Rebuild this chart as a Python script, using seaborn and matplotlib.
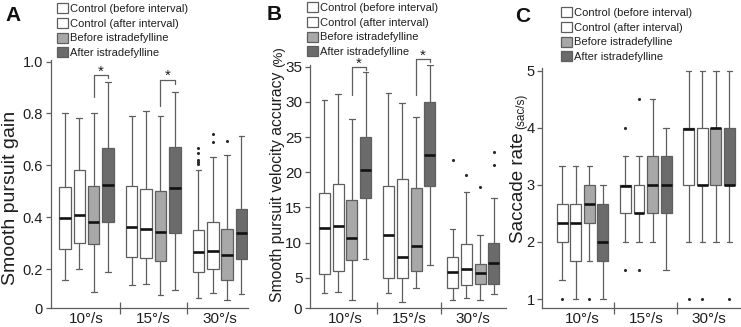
import numpy as np
import pandas as pd
import matplotlib
matplotlib.use("Agg")
import matplotlib.pyplot as plt
import seaborn as sns

sns.set_style("ticks")
plt.rcParams['font.family'] = ['Liberation Sans', 'DejaVu Sans']

W, H = 741, 327

speeds = ['10°/s', '15°/s', '30°/s']
conditions = ['Control (before interval)', 'Control (after interval)',
              'Before istradefylline', 'After istradefylline']
box_colors = ['#ffffff', '#ffffff', '#a8a8a8', '#6b6b6b']

# A - smooth pursuit gain (rows = speed, cols = condition)
gain_lo = [[0.16, 0.20, 0.11, 0.19], [0.14, 0.141, 0.099, 0.12], [0.09, 0.109, 0.081, 0.106]]
gain_q1 = [[0.277, 0.30, 0.295, 0.38], [0.245, 0.241, 0.231, 0.341], [0.19, 0.199, 0.16, 0.24]]
gain_med = [[0.397, 0.41, 0.38, 0.524], [0.363, 0.353, 0.343, 0.512], [0.265, 0.27, 0.255, 0.341]]
gain_q3 = [[0.518, 0.583, 0.52, 0.667], [0.521, 0.51, 0.501, 0.672], [0.35, 0.38, 0.354, 0.43]]
gain_hi = [[0.80, 0.782, 0.80, 0.923], [0.792, 0.811, 0.791, 0.882], [0.583, 0.632, 0.641, 0.713]]
gain_out = {(2, 0): [0.605, 0.613, 0.622, 0.649, 0.668], (2, 1): [0.69, 0.722], (2, 2): [0.693]}

# B - smooth pursuit velocity accuracy (%)
acc_lo = [[2.8, 3.0, 1.9, 7.7], [2.8, 1.6, 3.6, 6.8], [1.9, 2.1, 1.9, 2.7]]
acc_q1 = [[5.5, 6.0, 7.5, 16.3], [5.0, 5.0, 6.0, 18.0], [3.6, 4.0, 4.1, 4.15]]
acc_med = [[12.0, 12.3, 10.7, 20.3], [11.0, 8.0, 9.5, 22.5], [5.8, 6.2, 5.6, 7.1]]
acc_q3 = [[17.1, 18.3, 16.1, 25.0], [18.0, 19.0, 17.8, 30.0], [7.9, 9.75, 6.95, 9.9]]
acc_hi = [[30.2, 31.1, 27.5, 34.2], [31.2, 29.8, 27.8, 35.3], [11.9, 17.2, 11.1, 16.4]]
acc_out = {(2, 0): [21.8], (2, 1): [19.6], (2, 2): [17.9], (2, 3): [21.0, 22.9]}

# C - saccade rate (sac/s)
sac_lo = [[1.33, 1.0, 1.67, 1.0], [2.0, 2.0, 2.0, 1.5], [2.0, 2.0, 2.0, 2.0]]
sac_q1 = [[2.0, 1.67, 2.33, 1.67], [2.5, 2.5, 2.5, 2.5], [3.0, 3.0, 3.0, 3.0]]
sac_med = [[2.33, 2.33, 2.67, 2.0], [2.98, 2.5, 3.0, 3.0], [3.98, 3.0, 4.0, 3.0]]
sac_q3 = [[2.67, 2.67, 3.0, 2.67], [3.0, 3.0, 3.5, 3.5], [4.0, 4.0, 4.0, 4.0]]
sac_hi = [[3.33, 3.33, 3.33, 3.0], [3.5, 3.5, 4.5, 4.0], [5.0, 5.0, 5.0, 5.0]]
sac_out = {(0, 0): [1.0], (0, 2): [1.0], (1, 0): [1.5, 4.0], (1, 1): [1.5, 4.5],
           (2, 0): [1.0], (2, 1): [1.0], (2, 3): [1.0]}

BOX_WIDTH = 0.86
SLOT = BOX_WIDTH / len(conditions)
LINE = '#5e5e5e'
TEXT = '#1e1e1e'


def long_table(lo, q1, med, q3, hi):
    # five numbers per box; whis=(0, 100) turns min/max into the whisker ends
    rows = []
    for i, speed in enumerate(speeds):
        for j, cond in enumerate(conditions):
            for v in (lo[i][j], q1[i][j], med[i][j], q3[i][j], hi[i][j]):
                rows.append({'speed': speed, 'condition': cond, 'value': v})
    return pd.DataFrame(rows)


def outlier_table(out):
    rows = []
    for (i, j), vals in out.items():
        for v in vals:
            rows.append({'x': i + (j - 1.5) * SLOT, 'value': v})
    return pd.DataFrame(rows)


fig = plt.figure(figsize=(W / 100, H / 100), dpi=100)


def make_axes(left, right, top, bottom):
    return fig.add_axes([left / W, 1 - bottom / H, (right - left) / W, (bottom - top) / H])


panels = [
    dict(letter='A', box=(50.7, 248, 59.5, 308.3), xlim=(-0.537, 2.42), ylim=(0.049, 1.008),
         yticks=[0.049, 0.2, 0.4, 0.6, 0.8, 1.0], yticklabels=['0', '0.2', '0.4', '0.6', '0.8', '1.0'],
         data=long_table(gain_lo, gain_q1, gain_med, gain_q3, gain_hi), out=gain_out,
         ylabel='Smooth pursuit gain', unit=None, label_size=14, tick_size=10.5,
         label_x=19, label_y=0.443,
         brackets=[(0, 0.863, 0.949, 0.936), (1, 0.83, 0.93, 0.914)],
         legend_at=(57, 3), letter_at=(5, 6)),
    dict(letter='B', box=(310, 506, 65, 308.3), xlim=(-0.545, 2.51), ylim=(0.65, 35.24),
         yticks=[0.65, 5, 10, 15, 20, 25, 30, 35], yticklabels=['0', '5', '10', '15', '20', '25', '30', '35'],
         data=long_table(acc_lo, acc_q1, acc_med, acc_q3, acc_hi), out=acc_out,
         ylabel='Smooth pursuit velocity accuracy', unit='(%)', unit_size=9.5, label_size=11.3,
         tick_size=11, label_x=285, label_y=0.5,
         brackets=[(0, 31.0, 34.9, 34.6), (1, 31.0, 36.1, 35.7)],
         legend_at=(307, 2), letter_at=(267, 5)),
    dict(letter='C', box=(542.3, 741, 68, 308.3), xlim=(-0.635, 2.505), ylim=(0.837, 5.05),
         yticks=[1, 2, 3, 4, 5], yticklabels=['1', '2', '3', '4', '5'],
         data=long_table(sac_lo, sac_q1, sac_med, sac_q3, sac_hi), out=sac_out,
         ylabel='Saccade rate', unit='(sac/s)', unit_size=8.5, label_size=13.5,
         tick_size=10.5, label_x=527, label_y=0.5,
         brackets=[], legend_at=(561, 7), letter_at=(515, 7)),
]

for p in panels:
    left, right, top, bottom = p['box']
    ax = make_axes(left, right, top, bottom)
    sns.boxplot(data=p['data'], x='speed', y='value', hue='condition',
                order=speeds, hue_order=conditions, palette=box_colors, saturation=1,
                width=BOX_WIDTH, gap=0.2, whis=(0, 100), showfliers=False,
                linecolor=LINE, linewidth=0.9,
                medianprops={'color': '#111111', 'linewidth': 1.9}, ax=ax)
    od = outlier_table(p['out'])
    sns.scatterplot(data=od, x='x', y='value', color='#2a2a2a', s=5, linewidth=0,
                    legend=False, ax=ax)

    # significance brackets between "before" and "after istradefylline"
    for g, y0, y1, y2 in p['brackets']:
        xa = g + 0.5 * SLOT
        xb = g + 1.5 * SLOT
        ax.plot([xa, xa, xb, xb], [y0, y1, y1, y2], color=LINE, lw=0.9, clip_on=False)
        ax.annotate('*', xy=((xa + xb) / 2, y1), xytext=(0, 2.5), textcoords='offset points',
                    ha='center', va='center', fontsize=11, color=TEXT,
                    annotation_clip=False)

    ax.set_xlim(*p['xlim'])
    ax.set_ylim(*p['ylim'])
    ax.set_yticks(p['yticks'])
    ax.set_yticklabels(p['yticklabels'])
    ax.set_xticks([0, 1, 2])
    ax.set_xticklabels(speeds)
    ax.set_xticks([0.5, 1.5], minor=True)
    ax.tick_params(axis='x', which='major', length=0, pad=3, labelsize=11, colors=TEXT)
    ax.tick_params(axis='x', which='minor', direction='inout', length=8, width=0.9, color=LINE)
    ax.tick_params(axis='y', length=3.5, width=0.9, color=LINE, pad=2,
                   labelsize=p['tick_size'], labelcolor=TEXT)
    ax.set_xlabel('')
    ax.set_ylabel(p['ylabel'], fontsize=p['label_size'], color=TEXT)
    ax.yaxis.set_label_coords((p['label_x'] - left) / (right - left), p['label_y'])
    sns.despine(ax=ax)
    for side in ('left', 'bottom'):
        ax.spines[side].set_color(LINE)
        ax.spines[side].set_linewidth(0.9)

    lx, ly = p['legend_at']
    sns.move_legend(ax, 'upper left', bbox_to_anchor=(lx / W, 1 - ly / H),
                    bbox_transform=fig.transFigure, frameon=False, title=None,
                    fontsize=8, handlelength=1.0, handleheight=1.0, handletextpad=0.2,
                    labelspacing=0.36, borderpad=0, borderaxespad=0)
    for t in ax.get_legend().get_texts():
        t.set_color(TEXT)
    p['ax'] = ax

    tx, ty = p['letter_at']
    fig.text(tx / W, 1 - ty / H, p['letter'], fontsize=15, fontweight='bold',
             ha='left', va='top', color='#111111')

# smaller unit text appended after the rotated y labels
fig.canvas.draw()
renderer = fig.canvas.get_renderer()
for p in panels:
    if p['unit'] is None:
        continue
    lab = p['ax'].yaxis.label
    bb = lab.get_window_extent(renderer)
    x_fig = bb.x1 / fig.bbox.width
    y_fig = (bb.y1 + 4) / fig.bbox.height
    fig.text(x_fig, y_fig, p['unit'], rotation=90, rotation_mode='anchor',
             ha='left', va='bottom', fontsize=p['unit_size'], color=TEXT)

fig.savefig('out.png', dpi=100)
